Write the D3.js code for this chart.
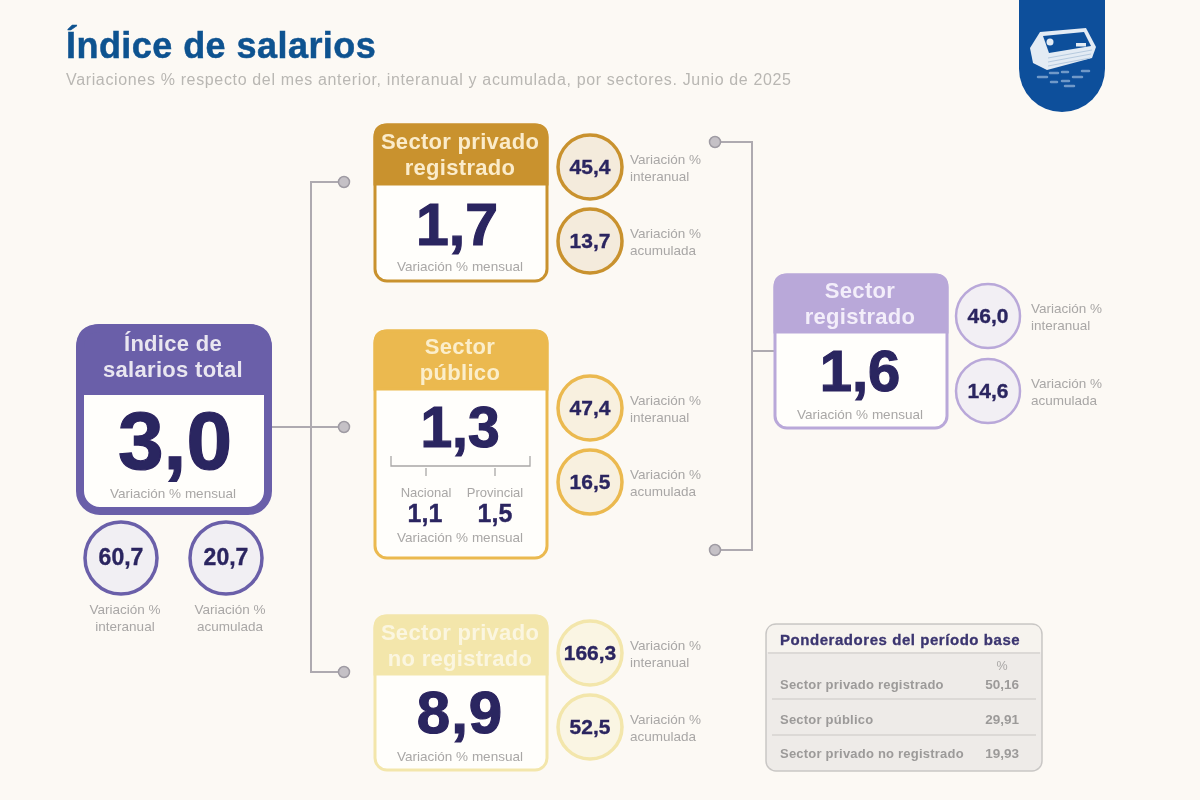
<!DOCTYPE html>
<html>
<head>
<meta charset="utf-8">
<script src="https://cdn.jsdelivr.net/npm/d3@7"></script>
<style>
  html, body { margin: 0; padding: 0; background: #fcf9f4; }
  svg { display: block; }
  text { font-family: "Liberation Sans", Arial, sans-serif; }
</style>
</head>
<body>
<div id="chart"></div>
<script>
// data
const boxIds = ['total', 'privado', 'publico', 'noRegistrado', 'registrado'];
const boxTitles = [
  ['Índice de', 'salarios total'],
  ['Sector privado', 'registrado'],
  ['Sector', 'público'],
  ['Sector privado', 'no registrado'],
  ['Sector', 'registrado']
];
const mensual = ['3,0', '1,7', '1,3', '8,9', '1,6'];
const interanual = ['60,7', '45,4', '47,4', '166,3', '46,0'];
const acumulada = ['20,7', '13,7', '16,5', '52,5', '14,6'];

const subNames = ['Nacional', 'Provincial'];
const subValues = ['1,1', '1,5'];

const pondTitle = 'Ponderadores del período base';
const pondNames = ['Sector privado registrado', 'Sector público', 'Sector privado no registrado'];
const pondValues = ['50,16', '29,91', '19,93'];

// layout, one entry per box id
const boxLayout = {
  total:        { x: 80,  y: 328, w: 188, h: 183, head: 63, r: 20, sw: 8, col: '#6a5fa9', tint: '#f1eff3', titleCol: '#e9e6f0', titleY: 23, valueSize: 82, valueX: 175, valueY: 469, valueLs: 0, labelY: 498 },
  privado:      { x: 375, y: 125, w: 172, h: 156, head: 59, r: 12, sw: 3, col: '#c9922f', tint: '#f4ebdc', titleCol: '#fbeccb', titleY: 24, valueSize: 59, valueX: 457, valueY: 245, valueLs: 0, labelY: 271 },
  publico:      { x: 375, y: 331, w: 172, h: 227, head: 58, r: 12, sw: 3, col: '#ebb94f', tint: '#f8f0df', titleCol: '#fbeecb', titleY: 23, valueSize: 57, valueX: 460, valueY: 447, valueLs: 0, labelY: 542 },
  noRegistrado: { x: 375, y: 616, w: 172, h: 154, head: 58, r: 12, sw: 3, col: '#f3e6ab', tint: '#faf5e3', titleCol: '#fbf6e0', titleY: 24, valueSize: 60, valueX: 460, valueY: 733, valueLs: 1, labelY: 761 },
  registrado:   { x: 775, y: 275, w: 172, h: 153, head: 57, r: 12, sw: 3, col: '#b9a8d9', tint: '#f2eff4', titleCol: '#f3eefa', titleY: 23, valueSize: 58, valueX: 860, valueY: 391, valueLs: 0, labelY: 419 }
};
const circleLayout = {
  total:        { r: 36, sw: 3.5, size: 23, a: [121, 558], b: [226, 558], labels: 'below', dx: 4 },
  privado:      { r: 32, sw: 3.5, size: 21, a: [590, 167], b: [590, 241], labels: 'right', dx: 40 },
  publico:      { r: 32, sw: 3.5, size: 21, a: [590, 408], b: [590, 482], labels: 'right', dx: 40 },
  noRegistrado: { r: 32, sw: 3.5, size: 21, a: [590, 653], b: [590, 727], labels: 'right', dx: 40 },
  registrado:   { r: 32, sw: 2.5, size: 21, a: [988, 316], b: [988, 391], labels: 'right', dx: 43 }
};

const width = 1200, height = 800;
const ink = '#2c2560', grey = '#a9a7a6', lineCol = '#aeaab0';

const svg = d3.select('#chart').append('svg')
  .attr('width', width).attr('height', height);

// the reference is a soft video frame
svg.append('defs').append('filter').attr('id', 'soft')
  .append('feGaussianBlur').attr('stdDeviation', 0.6);

svg.append('rect').attr('width', width).attr('height', height).attr('fill', '#fcf9f4');
const root = svg.append('g').attr('filter', 'url(#soft)');

// title
root.append('text').attr('x', 66).attr('y', 58)
  .attr('font-size', 36).attr('font-weight', 700).attr('fill', '#115290')
  .attr('stroke', '#115290').attr('stroke-width', 0.5).style('letter-spacing', '0.45px')
  .text('Índice de salarios');
root.append('text').attr('x', 66).attr('y', 85)
  .attr('font-size', 16).attr('fill', '#b9b7b3').style('letter-spacing', '0.65px')
  .text('Variaciones % respecto del mes anterior, interanual y acumulada, por sectores. Junio de 2025');

// blue tab with the banknotes icon
root.append('path')
  .attr('d', 'M1019,0 H1105 V69 A43,43 0 0 1 1019,69 Z')
  .attr('fill', '#0e4f9b');
const icon = root.append('g');
icon.append('path').attr('d', 'M1030,48 L1040,32 L1086,28 L1096,47 L1092,58 L1047,70 L1033,63 Z').attr('fill', '#e3ebf4');
icon.append('path').attr('d', 'M1043,36 L1084,32 L1091,46 L1049,53 Z').attr('fill', '#0e4f9b');
icon.append('circle').attr('cx', 1050).attr('cy', 42).attr('r', 3.5).attr('fill', '#e3ebf4');
icon.append('rect').attr('x', 1076).attr('y', 43).attr('width', 10).attr('height', 3.5).attr('fill', '#e3ebf4');
icon.append('path').attr('d', 'M1048,58 L1092,50 M1048,62 L1091,54 M1048,66 L1090,58')
  .attr('stroke', '#b6cadf').attr('stroke-width', 1).attr('fill', 'none');
const crumbs = ['M1038,77 h9', 'M1050,73 h8', 'M1062,72 h6', 'M1073,77 h9', 'M1051,82 h6', 'M1062,81 h7', 'M1065,86 h9', 'M1082,71 h7'];
icon.selectAll('path.crumb').data(crumbs).join('path').attr('class', 'crumb')
  .attr('d', d => d).attr('stroke', '#6f99c8').attr('stroke-width', 2.5).attr('stroke-linecap', 'round');

// connectors
const connectors = [
  'M272,427 H344',
  'M344,182 H311 V672 H344',
  'M715,142 H752 V550 H715',
  'M752,351 H775'
];
root.selectAll('path.link').data(connectors).join('path').attr('class', 'link')
  .attr('d', d => d).attr('fill', 'none').attr('stroke', lineCol).attr('stroke-width', 2);
const dots = [[344, 182], [344, 427], [344, 672], [715, 142], [715, 550]];
root.selectAll('circle.dot').data(dots).join('circle').attr('class', 'dot')
  .attr('cx', d => d[0]).attr('cy', d => d[1]).attr('r', 5.5)
  .attr('fill', '#c5c1c6').attr('stroke', '#9f9ba3').attr('stroke-width', 1.5);

// boxes
boxIds.forEach((id, i) => {
  const b = boxLayout[id], c = circleLayout[id];
  const cx = b.x + b.w / 2;
  const g = root.append('g');

  g.append('rect').attr('x', b.x).attr('y', b.y).attr('width', b.w).attr('height', b.h)
    .attr('rx', b.r).attr('fill', '#fffefb').attr('stroke', b.col).attr('stroke-width', b.sw);
  g.append('path')
    .attr('d', `M${b.x},${b.y + b.head} V${b.y + b.r} Q${b.x},${b.y} ${b.x + b.r},${b.y} H${b.x + b.w - b.r} Q${b.x + b.w},${b.y} ${b.x + b.w},${b.y + b.r} V${b.y + b.head} Z`)
    .attr('fill', b.col).attr('stroke', b.col).attr('stroke-width', b.sw);

  g.selectAll('text.title').data(boxTitles[i]).join('text').attr('class', 'title')
    .attr('x', cx - 1).attr('y', (d, k) => b.y + b.titleY + k * 26)
    .attr('text-anchor', 'middle').attr('font-size', 22).attr('font-weight', 700)
    .style('letter-spacing', '0.3px').attr('fill', b.titleCol).text(d => d);

  g.append('text').attr('x', b.valueX).attr('y', b.valueY)
    .attr('text-anchor', 'middle').attr('font-size', b.valueSize).attr('font-weight', 700)
    .style('letter-spacing', b.valueLs + 'px')
    .attr('fill', ink).attr('stroke', ink).attr('stroke-width', 1.2).text(mensual[i]);
  g.append('text').attr('x', cx - 1).attr('y', b.labelY)
    .attr('text-anchor', 'middle').attr('font-size', 13.5).attr('fill', grey)
    .text('Variación % mensual');

  // the two side circles
  const rows = [
    { pos: c.a, value: interanual[i], lines: ['Variación %', 'interanual'] },
    { pos: c.b, value: acumulada[i], lines: ['Variación %', 'acumulada'] }
  ];
  rows.forEach(row => {
    g.append('circle').attr('cx', row.pos[0]).attr('cy', row.pos[1]).attr('r', c.r)
      .attr('fill', b.tint).attr('stroke', b.col).attr('stroke-width', c.sw);
    g.append('text').attr('x', row.pos[0]).attr('y', row.pos[1] + 6.5)
      .attr('text-anchor', 'middle').attr('font-size', c.size).attr('font-weight', 700)
      .attr('fill', ink).attr('stroke', ink).attr('stroke-width', 0.35).text(row.value);
    const below = c.labels === 'below';
    g.selectAll(null).data(row.lines).join('text')
      .attr('x', row.pos[0] + c.dx)
      .attr('y', (d, k) => (below ? row.pos[1] + 56 : row.pos[1] - 3) + k * 17)
      .attr('text-anchor', below ? 'middle' : 'start')
      .attr('font-size', 13.5).attr('fill', grey).text(d => d);
  });
});

// público: national / provincial split
const sub = root.append('g');
sub.append('path').attr('d', 'M391,456 V466 H530 V456')
  .attr('fill', 'none').attr('stroke', '#a9a7a6').attr('stroke-width', 1.3);
[426, 495].forEach((x, k) => {
  sub.append('path').attr('d', `M${x},468 V476`).attr('stroke', '#a9a7a6').attr('stroke-width', 1.3);
  sub.append('text').attr('x', x).attr('y', 497).attr('text-anchor', 'middle')
    .attr('font-size', 13).attr('fill', grey).text(subNames[k]);
  sub.append('text').attr('x', k ? x : x - 1).attr('y', 522).attr('text-anchor', 'middle')
    .attr('font-size', 25).attr('font-weight', 700).attr('fill', ink).attr('stroke', ink).attr('stroke-width', 0.4).text(subValues[k]);
});

// ponderadores table
const t = root.append('g');
t.append('rect').attr('x', 766).attr('y', 624).attr('width', 276).attr('height', 147).attr('rx', 10)
  .attr('fill', '#eeebe8').attr('stroke', '#c9c7c5').attr('stroke-width', 1.5);
t.append('path').attr('d', 'M767,652 V634 Q767,625 776,625 H1032 Q1041,625 1041,634 V652 Z').attr('fill', '#f6f3ee');
t.append('text').attr('x', 780).attr('y', 645).attr('font-size', 15).attr('font-weight', 700)
  .attr('stroke', '#3b3570').attr('stroke-width', 0.3).style('letter-spacing', '0.55px').attr('fill', '#3b3570').text(pondTitle);
t.selectAll('path.sep').data(['M768,653 H1040', 'M772,699 H1036', 'M772,735 H1036']).join('path').attr('class', 'sep')
  .attr('d', d => d).attr('stroke', '#d6d3d0').attr('stroke-width', 1.5);
t.append('text').attr('x', 1002).attr('y', 670).attr('text-anchor', 'middle')
  .attr('font-size', 12.5).attr('fill', '#a9a7a6').text('%');
const rowY = d3.scalePoint().domain(pondNames).range([689, 758]);
t.selectAll('text.pname').data(pondNames).join('text').attr('class', 'pname')
  .attr('x', 780).attr('y', d => rowY(d)).attr('font-size', 13).attr('font-weight', 700)
  .style('letter-spacing', '0.22px').attr('fill', '#9c9a99').text(d => d);
t.selectAll('text.pval').data(pondValues).join('text').attr('class', 'pval')
  .attr('x', 1019).attr('y', (d, k) => rowY(pondNames[k])).attr('text-anchor', 'end')
  .attr('font-size', 13.5).attr('font-weight', 700).attr('fill', '#9c9a99').text(d => d);
</script>
</body>
</html>
